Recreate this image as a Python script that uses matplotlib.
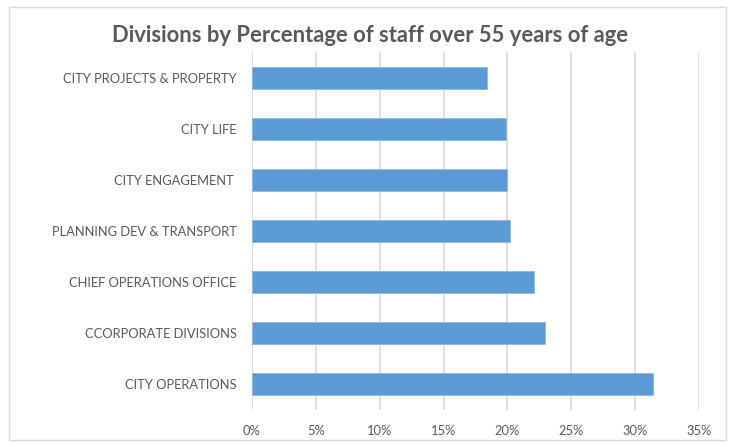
import matplotlib
matplotlib.use("Agg")
import matplotlib.pyplot as plt
from matplotlib.patches import Rectangle
from matplotlib.ticker import FuncFormatter, MultipleLocator

# Divisions listed bottom-to-top as they appear on the chart
divisions = [
    "CITY OPERATIONS",
    "CCORPORATE DIVISIONS",
    "CHIEF OPERATIONS OFFICE",
    "PLANNING DEV & TRANSPORT",
    "CITY ENGAGEMENT ",
    "CITY LIFE",
    "CITY PROJECTS & PROPERTY",
]
pct_over_55 = [0.3138, 0.2295, 0.2206, 0.2018, 0.2000, 0.1985, 0.1840]

title = "Divisions by Percentage of staff over 55 years of age"
bar_color = "#5B9BD5"
grid_color = "#D9D9D9"
text_color = "#595959"

plt.rcParams["font.family"] = ["Lato", "DejaVu Sans"]

fig = plt.figure(figsize=(7.31, 4.46), dpi=100)
fig.patch.set_facecolor("white")

# Chart frame
fig.add_artist(Rectangle((9 / 731, 1 - 440 / 446), (726 - 9) / 731, (440 - 7) / 446,
                         transform=fig.transFigure, fill=False,
                         edgecolor="#D9D9D9", linewidth=1.0))

ax = fig.add_axes([252 / 731, 1 - 410 / 446, (699 - 252) / 731, (410 - 52) / 446])
y = range(len(divisions))
ax.barh(y, pct_over_55, height=0.43, color=bar_color, edgecolor="#8DB9E2",
        linewidth=0.6, zorder=3)

ax.set_xlim(0, 0.35)
ax.set_ylim(-0.5, len(divisions) - 0.5)
ax.xaxis.set_major_locator(MultipleLocator(0.05))
ax.xaxis.set_major_formatter(FuncFormatter(lambda v, _: f"{v * 100:.0f}%"))
ax.set_yticks(list(y))
ax.set_yticklabels(divisions)

ax.grid(axis="x", color=grid_color, linewidth=1.2, zorder=0)
ax.set_axisbelow(True)
for s in ax.spines.values():
    s.set_visible(False)
ax.tick_params(axis="both", length=0, labelsize=9.3, colors=text_color)
ax.tick_params(axis="x", pad=11)
ax.tick_params(axis="y", pad=11)

fig.text(370 / 731, 1 - 36 / 446, title, ha="center", va="center",
         fontsize=15.8, fontweight="bold", color="#595959")

fig.savefig("out.png", dpi=100)
